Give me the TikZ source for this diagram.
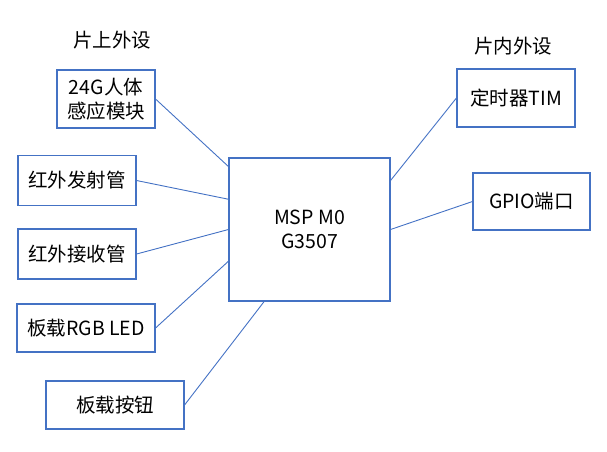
\documentclass[tikz,border=0pt]{standalone}
\usepackage{fontspec}
\setmainfont{Noto Sans CJK SC}
\usetikzlibrary{calc}
\definecolor{boxblue}{HTML}{4472C4}
\tikzset{
  blk/.style={draw=boxblue, line width=1.1pt, fill=white, inner sep=0pt, align=center,
    font=\fontsize{19.5}{23.5}\selectfont},
  lnk/.style={draw=boxblue, line width=0.9pt},
  ttl/.style={font=\fontsize{19.5}{23.5}\selectfont, inner sep=0pt}
}
\begin{document}
\begin{tikzpicture}[x=1pt,y=-1pt]
\useasboundingbox (0,0) rectangle (607,451);
\node[ttl] (t1) at (112,40) {片上外设};
\node[ttl] (t2) at (513,46) {片内外设};
\node[blk, minimum width=98pt, minimum height=58pt] (a) at (106,99) {24G人体\\感应模块};
\node[blk, minimum width=118pt, minimum height=50pt] (b) at (77,180.5) {红外发射管};
\node[blk, minimum width=118pt, minimum height=50pt] (c) at (77,254) {红外接收管};
\node[blk, minimum width=138pt, minimum height=48pt] (d) at (86,328) {板载RGB LED};
\node[blk, minimum width=138pt, minimum height=48pt] (e) at (115,405) {板载按钮};
\node[blk, minimum width=161pt, minimum height=143pt] (m) at (309.5,229.5) {MSP M0\\G3507};
\node[blk, minimum width=118pt, minimum height=58pt] (f) at (516,98) {定时器TIM};
\node[blk, minimum width=117pt, minimum height=57pt] (g) at (531.5,201.5) {GPIO端口};
\draw[lnk] (a.east) -- ($(m.north west)!0.063!(m.south west)$);
\draw[lnk] (b.east) -- ($(m.north west)!0.29!(m.south west)$);
\draw[lnk] (c.east) -- ($(m.north west)!0.5!(m.south west)$);
\draw[lnk] (d.east) -- ($(m.north west)!0.72!(m.south west)$);
\draw[lnk] (e.east) -- ($(m.south west)!0.22!(m.south east)$);
\draw[lnk] (f.west) -- ($(m.north east)!0.16!(m.south east)$);
\draw[lnk] (g.west) -- ($(m.north east)!0.5!(m.south east)$);
\end{tikzpicture}
\end{document}
